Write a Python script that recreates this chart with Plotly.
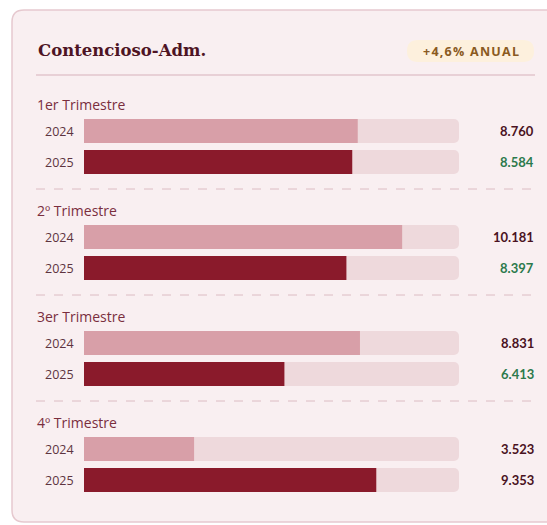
import plotly.graph_objects as go

W, H = 547, 525
title = "Contencioso-Adm."
badge = "+4,6% ANUAL"
quarters = ["1er Trimestre", "2º Trimestre", "3er Trimestre", "4º Trimestre"]
years = ["2024", "2025"]
v2024 = [8760, 10181, 8831, 3523]
v2025 = [8584, 8397, 6413, 9353]
xmax = 12000

# layout constants (pixels)
first_row = 131
row_step = 31
group_step = 106
bar_h = 24
x0_px, x1_px = 84, 459

def px(x):
    return x / W

fig = go.Figure()

ys24 = [first_row + g * group_step for g in range(4)]
ys25 = [first_row + g * group_step + row_step for g in range(4)]

# tracks
fig.add_trace(go.Bar(x=[xmax] * 8, y=ys24 + ys25, orientation="h", width=bar_h,
                     marker=dict(color="#eed9dc", cornerradius=5, line=dict(width=0)),
                     hoverinfo="skip", showlegend=False))
fig.add_trace(go.Bar(x=v2024, y=ys24, orientation="h", width=bar_h,
                     marker=dict(color="#d89fa8", cornerradius=5, line=dict(width=0)),
                     name="2024", showlegend=False))
fig.add_trace(go.Bar(x=v2025, y=ys25, orientation="h", width=bar_h,
                     marker=dict(color="#8a1a2b", cornerradius=5, line=dict(width=0)),
                     name="2025", showlegend=False))

shapes = []
# card
cx0, cy0, cx1, cy1, r = 12, 10, 547, 522, 12
shapes.append(dict(type="path", xref="paper", yref="y",
                   path=f"M {px(cx0)},{cy0+r} Q {px(cx0)},{cy0} {px(cx0+r)},{cy0} L {px(cx1)},{cy0} L {px(cx1)},{cy1} "
                        f"L {px(cx0+r)},{cy1} Q {px(cx0)},{cy1} {px(cx0)},{cy1-r} Z",
                   fillcolor="#f9eff1", line=dict(width=0), layer="below"))
shapes.append(dict(type="path", xref="paper", yref="y",
                   path=f"M {px(cx1)},{cy0} L {px(cx0+r)},{cy0} Q {px(cx0)},{cy0} {px(cx0)},{cy0+r} "
                        f"L {px(cx0)},{cy1-r} Q {px(cx0)},{cy1} {px(cx0+r)},{cy1} L {px(cx1)},{cy1}",
                   fillcolor="rgba(0,0,0,0)", line=dict(color="#e6c9cf", width=1.5), layer="below"))
# badge
bx0, by0, bx1, by1, br = 407, 40, 534, 62, 11
shapes.append(dict(type="path", xref="paper", yref="y",
                   path=f"M {px(bx0+br)},{by0} L {px(bx1-br)},{by0} Q {px(bx1)},{by0} {px(bx1)},{by0+br} "
                        f"L {px(bx1)},{by1-br} Q {px(bx1)},{by1} {px(bx1-br)},{by1} L {px(bx0+br)},{by1} "
                        f"Q {px(bx0)},{by1} {px(bx0)},{by1-br} L {px(bx0)},{by0+br} Q {px(bx0)},{by0} {px(bx0+br)},{by0} Z",
                   fillcolor="#fdf0dd", line=dict(width=0), layer="below"))
# title rule
shapes.append(dict(type="line", xref="paper", yref="y", x0=px(36), x1=px(535), y0=75, y1=75,
                   line=dict(color="#e2c6cc", width=1.5), layer="below"))
# separators
for g in range(3):
    yy = first_row + row_step + g * group_step + 27
    shapes.append(dict(type="line", xref="paper", yref="y", x0=px(36), x1=px(535), y0=yy, y1=yy,
                       line=dict(color="#dcbcc3", width=1, dash="dash"), layer="below"))

ann = []
ann.append(dict(text=f"<b>{title}</b>", x=px(36), y=50, xref="paper", yref="y", xanchor="left", yanchor="middle",
                showarrow=False, font=dict(family="DejaVu Serif", size=16.5, color="#4e1424")))
spaced = "\u200a".join(badge)
ann.append(dict(text=f"<b>{spaced}</b>", x=px(470.5), y=51, xref="paper", yref="y", xanchor="center", yanchor="middle",
                showarrow=False, font=dict(family="Open Sans", size=12.5, color="#8a5a22")))
for g, q in enumerate(quarters):
    ann.append(dict(text=q, x=px(35), y=ys24[g] - 27, xref="paper", yref="y", xanchor="left", yanchor="middle",
                    showarrow=False, font=dict(family="Open Sans", size=14, color="#7a2e3e")))
    for yy, yr, val in ((ys24[g], years[0], v2024[g]), (ys25[g], years[1], v2025[g])):
        ann.append(dict(text=yr, x=px(76), y=yy, xref="paper", yref="y", xanchor="right", yanchor="middle",
                        showarrow=False, font=dict(family="Open Sans", size=12.5, color="#5e3440")))
        if yr == years[1] and v2025[g] < v2024[g]:
            col = "#2c7a4c"
        else:
            col = "#4a1222"
        ann.append(dict(text=f"{val:,}".replace(",", "."), x=px(536), y=yy, xref="paper", yref="y",
                        xanchor="right", yanchor="middle", showarrow=False,
                        font=dict(family="Lato", size=13, color=col, weight=700)))

fig.update_layout(
    width=W, height=H, margin=dict(l=0, r=0, t=0, b=0),
    paper_bgcolor="white", plot_bgcolor="rgba(0,0,0,0)",
    barmode="overlay", shapes=shapes, annotations=ann,
    xaxis=dict(domain=[px(x0_px), px(x1_px)], range=[0, xmax], visible=False, fixedrange=True),
    yaxis=dict(domain=[0, 1], range=[H, 0], visible=False, fixedrange=True),
)

fig.write_html("out.html", config={"displayModeBar": False},
               post_script="document.documentElement.style.overflow='hidden';"
                           "document.body.style.margin='0';document.body.style.overflow='hidden';")
